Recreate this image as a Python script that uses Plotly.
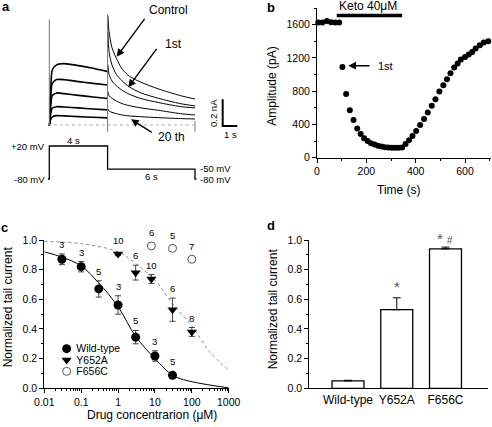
import math
import plotly.graph_objects as go

W, H = 492, 427
FONT = "Arial, Liberation Sans, sans-serif"

# ---------------- DATA ----------------
# Panel a: hERG current sweeps (nA) at sample times (s)
a_step_t = [-0.08, 0.0, 0.08, 0.2, 0.5, 1.0, 2.0, 3.0, 4.0]
a_step_control = [0, 0, 0.22, 0.41, 0.45, 0.46, 0.445, 0.425, 0.40]
a_step_1st = [0, 0, 0.17, 0.31, 0.34, 0.34, 0.325, 0.312, 0.30]
a_step_s3 = [0, 0, 0.12, 0.22, 0.24, 0.235, 0.222, 0.21, 0.198]
a_step_s4 = [0, 0, 0.07, 0.125, 0.137, 0.135, 0.128, 0.12, 0.113]
a_step_20th = [0, 0, 0.035, 0.06, 0.07, 0.068, 0.063, 0.058, 0.053]

a_tail_t = [4.02, 4.1, 4.3, 4.6, 5.0, 5.5, 6.3, 7.5, 9.0, 10.0]
a_tail_control = [0.82, 0.70, 0.58, 0.50, 0.42, 0.365, 0.32, 0.27, 0.22, 0.195]
a_tail_1st = [0.70, 0.55, 0.45, 0.38, 0.33, 0.285, 0.24, 0.20, 0.16, 0.143]
a_tail_s3 = [0.45, 0.38, 0.33, 0.295, 0.26, 0.23, 0.198, 0.168, 0.138, 0.128]
a_tail_s4 = [0.25, 0.22, 0.20, 0.18, 0.16, 0.145, 0.128, 0.11, 0.085, 0.075]
a_tail_20th = [0.12, 0.105, 0.095, 0.085, 0.075, 0.068, 0.062, 0.055, 0.048, 0.045]

a_spike_t = [0, 0, None, 4, 4, None, 10, 10]
a_spike_I = [0, 0.79, None, 0.83, -0.05, None, 0.03, -0.05]
a_base_t = [-0.1, 10.1]
a_base_I = [0, 0]
a_scale_t = [11.9, 11.9, 12.9]
a_scale_I = [0.1925, -0.0075, -0.0075]

a_prot_t = [-0.1, 0, 0, 4, 4, 10, 10, 10.1]
a_prot_mV = [-80, -80, 20, 20, -50, -50, -80, -80]

# Panel b: tail amplitude time course
b_time = [5, 22, 40, 57, 74, 90, 103, 118, 133, 148, 163, 177, 191, 205, 219, 233,
          247, 261, 275, 289, 303, 317, 331, 345, 359, 373, 387, 402, 418, 434,
          449, 465, 480, 496, 512, 527, 541, 556, 570, 583, 600, 615, 629, 643,
          660, 676, 694]
b_amp = [1625, 1625, 1645, 1630, 1625, 1625, 1090, 765, 570, 452, 350, 285, 235, 200, 175, 158,
         145, 135, 127, 122, 120, 120, 120, 124, 164, 211, 260, 320, 392, 464,
         544, 624, 704, 796, 872, 944, 1016, 1084, 1132, 1180, 1211, 1240, 1271, 1312,
         1351, 1384, 1399]
b_keto_t = [80, 345]
b_keto_amp = [1711, 1711]

# Panel c: concentration-response
c_wt_conc = [0.03, 0.1, 0.3, 1, 3, 10, 30]
c_wt_val = [0.87, 0.82, 0.67, 0.562, 0.345, 0.218, 0.088]
c_wt_err = [0.036, 0.035, 0.055, 0.062, 0.045, 0.035, 0.01]
c_wt_n = ["3", "3", "5", "3", "5", "3", "5"]

c_y652a_conc = [1, 3, 8, 30, 100]
c_y652a_val = [0.905, 0.78, 0.737, 0.53, 0.38]
c_y652a_err = [0.01, 0.05, 0.03, 0.078, 0.03]
c_y652a_n = ["10", "6", "10", "6", "8"]

c_f656c_conc = [8, 30, 100]
c_f656c_val = [0.96, 0.944, 0.87]
c_f656c_err = [0, 0, 0]
c_f656c_n = ["6", "5", "7"]

c_fit_wt_x = [0.01, 0.03, 0.1, 0.3, 1, 3, 10, 30, 60, 200, 1000]
c_fit_wt_y = [0.92, 0.885, 0.825, 0.71, 0.55, 0.35, 0.2, 0.088, 0.058, 0.03, 0.003]
c_fit_mut_x = [0.01, 0.1, 1, 3, 10, 30, 100, 300, 1000]
c_fit_mut_y = [0.99, 0.975, 0.92, 0.84, 0.73, 0.57, 0.42, 0.25, 0.12]

c_legend = ["Wild-type", "Y652A", "F656C"]

# Panel d: bars
d_cat = ["Wild-type", "Y652A", "F656C"]
d_val = [0.05, 0.53, 0.94]
d_err = [0.004, 0.08, 0.012]


# ---------------- helpers ----------------
def dx(a, b):
    return [a / W, b / W]


def dy(top, bottom):
    return [1 - bottom / H, 1 - top / H]


def px(x):
    return x / W


def py(y):
    return 1 - y / H


fig = go.Figure()

# ---------------- Panel a ----------------
for I in [a_step_control, a_step_1st, a_step_s3, a_step_s4, a_step_20th]:
    fig.add_trace(go.Scatter(x=a_step_t, y=I, mode="lines", xaxis="x", yaxis="y",
                             line=dict(color="black", width=1.6, shape="spline", smoothing=0.6),
                             showlegend=False, hoverinfo="skip"))
for I in [a_tail_control, a_tail_1st, a_tail_s3, a_tail_s4, a_tail_20th]:
    fig.add_trace(go.Scatter(x=a_tail_t, y=I, mode="lines", xaxis="x", yaxis="y",
                             line=dict(color="black", width=1.0, shape="spline", smoothing=0.8),
                             showlegend=False, hoverinfo="skip"))
fig.add_trace(go.Scatter(x=a_spike_t, y=a_spike_I, mode="lines", xaxis="x", yaxis="y",
                         line=dict(color="#777", width=1), showlegend=False, hoverinfo="skip"))
fig.add_trace(go.Scatter(x=a_base_t, y=a_base_I, mode="lines", xaxis="x", yaxis="y",
                         line=dict(color="#aaa", width=1, dash="dot"), showlegend=False, hoverinfo="skip"))
fig.add_trace(go.Scatter(x=a_scale_t, y=a_scale_I, mode="lines", xaxis="x", yaxis="y",
                         line=dict(color="black", width=2), showlegend=False, hoverinfo="skip"))
fig.add_trace(go.Scatter(x=a_prot_t, y=a_prot_mV, mode="lines", xaxis="x2", yaxis="y2",
                         line=dict(color="black", width=1.3), showlegend=False, hoverinfo="skip"))

# ---------------- Panel b ----------------
fig.add_trace(go.Scatter(x=b_time, y=b_amp, mode="markers", xaxis="x3", yaxis="y3",
                         marker=dict(color="black", size=6), cliponaxis=False,
                         showlegend=False, hoverinfo="skip"))
fig.add_trace(go.Scatter(x=b_keto_t, y=b_keto_amp, mode="lines", xaxis="x3", yaxis="y3",
                         line=dict(color="black", width=3.5), cliponaxis=False,
                         showlegend=False, hoverinfo="skip"))

# ---------------- Panel c ----------------
fig.add_trace(go.Scatter(x=c_fit_mut_x, y=c_fit_mut_y, mode="lines", xaxis="x4", yaxis="y4",
                         line=dict(color="#888", width=1, dash="dot", shape="spline"),
                         showlegend=False, hoverinfo="skip"))
fig.add_trace(go.Scatter(x=c_fit_wt_x, y=c_fit_wt_y, mode="lines", xaxis="x4", yaxis="y4",
                         line=dict(color="black", width=1, shape="spline"),
                         showlegend=False, hoverinfo="skip"))
eb = dict(type="data", color="#444", thickness=1, width=3)
fig.add_trace(go.Scatter(x=c_wt_conc, y=c_wt_val, mode="markers", xaxis="x4", yaxis="y4",
                         error_y=dict(array=c_wt_err, **eb),
                         marker=dict(color="black", size=9), cliponaxis=False,
                         showlegend=False, hoverinfo="skip"))
fig.add_trace(go.Scatter(x=c_y652a_conc, y=c_y652a_val, mode="markers", xaxis="x4", yaxis="y4",
                         error_y=dict(array=c_y652a_err, **eb),
                         marker=dict(color="black", size=9, symbol="triangle-down"), cliponaxis=False,
                         showlegend=False, hoverinfo="skip"))
fig.add_trace(go.Scatter(x=c_f656c_conc, y=c_f656c_val, mode="markers", xaxis="x4", yaxis="y4",
                         marker=dict(color="white", size=8, line=dict(color="#555", width=1)),
                         cliponaxis=False, showlegend=False, hoverinfo="skip"))

# legend for panel c (own tiny axis)
leg_syms = [dict(color="black", size=9),
            dict(color="black", size=9, symbol="triangle-down"),
            dict(color="white", size=8, line=dict(color="#555", width=1))]
for name, m in zip(c_legend, leg_syms):
    fig.add_trace(go.Scatter(x=[0], y=[name], mode="markers", xaxis="x6", yaxis="y6",
                             marker=m, showlegend=False, hoverinfo="skip"))

# ---------------- Panel d ----------------
fig.add_trace(go.Bar(x=d_cat, y=d_val, xaxis="x5", yaxis="y5", width=0.656,
                     marker=dict(color="white", line=dict(color="black", width=1.3)),
                     error_y=dict(type="data", array=d_err, arrayminus=[0, 0, 0], symmetric=False,
                                  color="black", thickness=1, width=4),
                     showlegend=False, hoverinfo="skip"))

# ---------------- axes ----------------
hidden = dict(visible=False, showgrid=False, zeroline=False, automargin=False)
ax_common = dict(showline=True, linecolor="black", linewidth=1, ticks="outside", ticklen=4,
                 tickcolor="black", showgrid=False, zeroline=False, automargin=False,
                 tickfont=dict(family=FONT, size=10.5, color="black"))

t0 = (40 - 49.3) / 14.57
t1 = (245 - 49.3) / 14.57
fig.update_layout(
    template="none",
    xaxis=dict(domain=dx(40, 245), range=[t0, t1], anchor="y", **hidden),
    yaxis=dict(domain=dy(10, 135), range=[(125 - 135) / 133.5, (125 - 10) / 133.5], anchor="x", **hidden),
    xaxis2=dict(domain=dx(40, 245), range=[t0, t1], anchor="y2", **hidden),
    yaxis2=dict(domain=dy(140, 185), range=[-80 - 6 / 0.33, 20 + 6 / 0.33], anchor="x2", **hidden),
    xaxis3=dict(domain=dx(317, 490.7), range=[0, 704], anchor="y3", dtick=200,
                minor=dict(dtick=100, ticks="outside", ticklen=2, tickcolor="black"), **ax_common),
    yaxis3=dict(domain=dy(8, 157.7), range=[0, 1800], anchor="x3", tickvals=[0, 400, 800, 1200, 1600],
                minor=dict(dtick=200, ticks="outside", ticklen=2, tickcolor="black"), **ax_common),
    xaxis4=dict(domain=dx(44.3, 228.7), type="log", range=[-2, 3], anchor="y4",
                tickvals=[0.01, 0.1, 1, 10, 100, 1000], ticktext=["0.01", "0.1", "1", "10", "100", "1000"],
                minor=dict(dtick="D1", ticks="outside", ticklen=2, tickcolor="black"), **ax_common),
    yaxis4=dict(domain=dy(240, 388.3), range=[0, 1], anchor="x4", dtick=0.2, tickformat=".1f",
                minor=dict(dtick=0.1, ticks="outside", ticklen=2, tickcolor="black"), **ax_common),
    xaxis5=dict(domain=dx(309.3, 488), range=[-0.794, 2.872], anchor="y5", type="category",
                showline=True, linecolor="black", linewidth=1, ticks="", showgrid=False, zeroline=False,
                automargin=False, tickfont=dict(family=FONT, size=12, color="black")),
    yaxis5=dict(domain=dy(240, 388.3), range=[0, 1], anchor="x5", dtick=0.2, tickformat=".1f",
                minor=dict(dtick=0.1, ticks="outside", ticklen=2, tickcolor="black"), **ax_common),
    xaxis6=dict(domain=dx(62, 71.3), range=[-1, 1], anchor="y6", **hidden),
    yaxis6=dict(domain=dy(343, 377), type="category", categoryorder="array",
                categoryarray=["F656C", "Y652A", "Wild-type"], range=[-0.5, 2.5],
                tickmode="array", tickvals=c_legend,
                anchor="x6", side="right", showline=False, ticks="", showgrid=False, zeroline=False,
                automargin=False, ticklabelstandoff=4,
                tickfont=dict(family=FONT, size=10.5, color="black")),
)

# ---------------- annotations ----------------
ann = []


def txt(x, y, s, size=12, xa="center", ya="middle", angle=0, bold=False, color="black"):
    ann.append(dict(xref="paper", yref="paper", x=px(x), y=py(y), text=("<b>%s</b>" % s) if bold else s,
                    showarrow=False, xanchor=xa, yanchor=ya, textangle=angle,
                    font=dict(family=FONT, size=size, color=color)))


def arrow(hx, hy, tx, ty):
    ann.append(dict(xref="paper", yref="paper", x=px(hx), y=py(hy), ax=tx - hx, ay=ty - hy,
                    text="", showarrow=True, arrowhead=2, arrowsize=1.1, arrowwidth=1.4,
                    arrowcolor="black", standoff=0, startstandoff=0))


# panel letters
txt(6, 6, "a", 13, bold=True)
txt(271, 7, "b", 13, bold=True)
txt(4, 227, "c", 13, bold=True)
txt(271, 225, "d", 13, bold=True)

# panel a labels
txt(168, 10, "Control", 12)
txt(173, 44, "1st", 12)
txt(171, 137, "20 th", 12)
arrow(116.7, 56.7, 145.7, 17.3)
arrow(128.3, 87.3, 157.7, 47.3)
arrow(131, 119.3, 153.3, 133.3)
txt(46.7, 146.5, "+20 mV", 9.5, xa="right")
txt(46.7, 179, "-80 mV", 9.5, xa="right")
txt(73.3, 140.5, "4 s", 9.5)
txt(151.7, 176, "6 s", 9.5)
txt(198, 168, "-50 mV", 9.5, xa="left")
txt(198, 179.5, "-80 mV", 9.5, xa="left")
txt(213, 113, "0.2 nA", 9.5, angle=-90)
txt(230, 134, "1 s", 9.5)

# panel b labels
txt(368.3, 6, "Keto 40μM", 12)
arrow(348.3, 65.7, 371, 65.7)
txt(376, 65.7, "1st", 11, xa="left")
txt(271.7, 86, "Amplitude (pA)", 12, angle=-90)
txt(399.3, 190, "Time (s)", 12)

# panel c labels
txt(8.3, 307, "Normalized tail current", 12, angle=-90)
txt(151.7, 415, "Drug concentrarion (μM)", 12)
for xs, vs, es, ns, msz in [(c_wt_conc, c_wt_val, c_wt_err, c_wt_n, 9),
                            (c_y652a_conc, c_y652a_val, c_y652a_err, c_y652a_n, 9),
                            (c_f656c_conc, c_f656c_val, c_f656c_err, c_f656c_n, 8)]:
    for xv, v, e, n in zip(xs, vs, es, ns):
        shift = max(2, msz / 2 + 1.5 - e * 148.3)
        ann.append(dict(xref="x4", yref="y4", x=math.log10(xv), y=v + e, text=n,
                        showarrow=False, xanchor="center", yanchor="bottom", yshift=shift,
                        font=dict(family=FONT, size=9.5, color="black")))

# panel d labels
txt(273.3, 309, "Normalized tail current", 12, angle=-90)
ann.append(dict(xref="x5", yref="y5", x="Y652A", y=d_val[1] + d_err[1], text="*", showarrow=False,
                yanchor="bottom", yshift=1, font=dict(family=FONT, size=15, color="#555")))
ann.append(dict(xref="x5", yref="y5", x="F656C", y=d_val[2] + d_err[2],
                text="* <span style='font-size:10px'>#</span>",
                showarrow=False, yanchor="bottom", yshift=-2, font=dict(family=FONT, size=15, color="#555")))

fig.update_layout(annotations=ann, width=W, height=H, autosize=False,
                  margin=dict(l=0, r=0, t=0, b=0), paper_bgcolor="white", plot_bgcolor="rgba(0,0,0,0)",
                  font=dict(family=FONT, color="black"))

fig.write_html("out.html", config={"displayModeBar": False, "staticPlot": True},
               post_script="document.body.style.margin='0';document.body.style.overflow='hidden';")
